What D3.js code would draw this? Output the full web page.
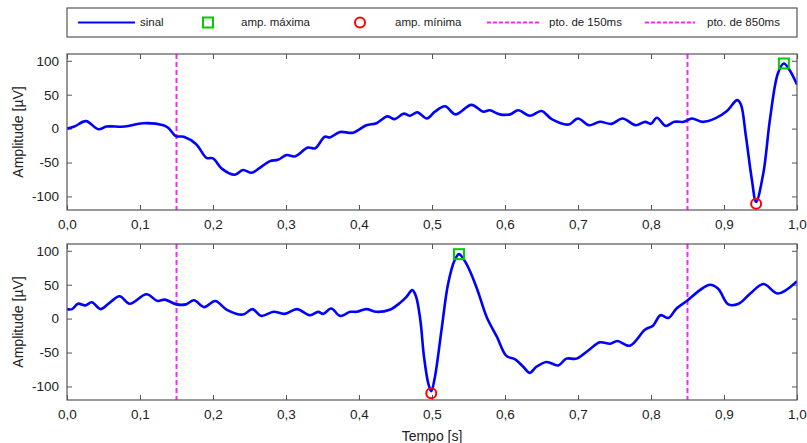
<!DOCTYPE html>
<html>
<head>
<meta charset="utf-8">
<script src="https://cdn.jsdelivr.net/npm/d3@7/dist/d3.min.js"></script>
<style>
  html, body { margin: 0; padding: 0; background: #fff; }
  svg { display: block; font-family: "Liberation Sans", Arial, sans-serif; }
</style>
</head>
<body>
<svg id="chart" width="807" height="443"></svg>
<script>
// Sample instants [s] and amplitudes [µV] of the first trace
const tempoA = [0.000, 0.010, 0.026, 0.043, 0.054, 0.079, 0.104, 0.132, 0.139, 0.149,
  0.160, 0.177, 0.191, 0.200, 0.212, 0.230, 0.241, 0.253, 0.264, 0.278,
  0.289, 0.301, 0.312, 0.330, 0.340, 0.353, 0.360, 0.374, 0.392, 0.410,
  0.424, 0.439, 0.449, 0.461, 0.470, 0.480, 0.493, 0.504, 0.518, 0.532,
  0.554, 0.570, 0.579, 0.593, 0.607, 0.618, 0.634, 0.650, 0.664, 0.687,
  0.700, 0.715, 0.730, 0.746, 0.761, 0.779, 0.792, 0.800, 0.808, 0.820,
  0.832, 0.845, 0.856, 0.871, 0.888, 0.904, 0.918, 0.923, 0.930, 0.938,
  0.944, 0.954, 0.963, 0.974, 0.982, 0.990, 1.000];
const sinalA = [0, 3, 11, -1, 3, 3, 8, 5, 1, -11,
  -12, -23, -43, -44, -59, -68, -61, -65, -58, -48,
  -46, -39, -41, -28, -29, -12, -13, -5, -6, 5,
  8, 18, 14, 22, 19, 24, 15, 25, 33, 21,
  35, 25, 27, 21, 21, 27, 19, 26, 14, 6,
  15, 5, 10, 7, 15, 5, 10, 7, 16, 4,
  10, 10, 15, 10, 15, 26, 42, 36, -11, -74,
  -108, -65, 14, 82, 96, 86, 65];

// Sample instants [s] and amplitudes [µV] of the second trace
const tempoB = [0.000, 0.007, 0.015, 0.025, 0.034, 0.046, 0.057, 0.072, 0.086, 0.109,
  0.124, 0.134, 0.150, 0.163, 0.174, 0.188, 0.203, 0.219, 0.241, 0.254,
  0.266, 0.283, 0.298, 0.315, 0.333, 0.344, 0.351, 0.362, 0.374, 0.388,
  0.397, 0.410, 0.424, 0.442, 0.456, 0.465, 0.473, 0.478, 0.484, 0.489,
  0.495, 0.499, 0.504, 0.513, 0.522, 0.531, 0.537, 0.547, 0.561, 0.575,
  0.589, 0.602, 0.614, 0.625, 0.634, 0.643, 0.657, 0.673, 0.684, 0.698,
  0.714, 0.730, 0.744, 0.754, 0.771, 0.792, 0.803, 0.813, 0.824, 0.835,
  0.849, 0.867, 0.881, 0.892, 0.906, 0.920, 0.936, 0.954, 0.974, 1.000];
const sinalB = [14, 14, 22, 19.5, 24, 14, 22, 33, 22, 36,
  26, 28, 21, 21, 27, 17, 26, 13, 6, 14,
  4, 10, 7, 14, 5, 10, 7, 15, 4, 10,
  10, 14, 10, 13, 23, 32, 42, 33, -2, -56,
  -96, -107, -86, -17, 51, 86, 95, 81, 46, 2,
  -27, -55, -60, -71, -80, -71, -64, -69, -59, -59,
  -47, -35, -37, -33, -40, -16, -10, 5, 1, 15,
  26, 42, 50, 44, 21, 22, 37, 51, 37, 55];

// Reference instants [s] marked on both traces
const marcos = [0.15, 0.85];

// Axis ticks
const xTicks = [0, 0.1, 0.2, 0.3, 0.4, 0.5, 0.6, 0.7, 0.8, 0.9, 1.0];
const yTicks = [-100, -50, 0, 50, 100];

// Legend entries
const legendLabels = ["sinal", "amp. máxima", "amp. mínima", "pto. de 150ms", "pto. de 850ms"];

const COR_SINAL = "#0000ff";
const COR_MAX = "#00cc00";
const COR_MIN = "#ff0000";
const COR_MARCO = "#ff22ff";
const COR_EIXO = "#555555";

const svg = d3.select("#chart");
const fmt = d => d3.format(".1f")(d).replace(".", ",");

const x = d3.scaleLinear().domain([0, 1]).range([67, 797]);

function painel(top, bottom, tempo, sinal, idx, comEixoX) {
  const y = d3.scaleLinear().domain([-120, 110]).range([bottom, top]);
  const g = svg.append("g");
  const clipId = "clip" + idx;
  svg.append("clipPath").attr("id", clipId)
    .append("rect").attr("x", x(0)).attr("y", top)
    .attr("width", x(1) - x(0)).attr("height", bottom - top);

  // Inward ticks on all four sides
  const tk = 5;
  const axB = d3.axisBottom(x).tickValues(xTicks).tickSize(-tk).tickFormat(fmt).tickPadding(9);
  const axT = d3.axisTop(x).tickValues(xTicks).tickSize(-tk).tickFormat("");
  const axL = d3.axisLeft(y).tickValues(yTicks).tickSize(-tk).tickFormat(d => d).tickPadding(8);
  const axR = d3.axisRight(y).tickValues(yTicks).tickSize(-tk).tickFormat("");

  const styleAxis = sel => {
    sel.select(".domain").remove();
    sel.selectAll(".tick line").attr("stroke", COR_EIXO);
    sel.selectAll("text").attr("fill", "#222").style("font-size", "13.5px")
      .style("font-family", "'Liberation Sans', Arial, sans-serif");
  };
  g.append("g").attr("transform", `translate(0,${bottom})`).call(axB).call(styleAxis);
  g.append("g").attr("transform", `translate(0,${top})`).call(axT).call(styleAxis);
  g.append("g").attr("transform", `translate(${x(0)},0)`).call(axL).call(styleAxis);
  g.append("g").attr("transform", `translate(${x(1)},0)`).call(axR).call(styleAxis);

  // Reference instants
  g.selectAll(".marco").data(marcos).join("line")
    .attr("x1", d => x(d)).attr("x2", d => x(d))
    .attr("y1", top).attr("y2", bottom)
    .attr("stroke", COR_MARCO).attr("stroke-width", 2)
    .attr("stroke-dasharray", "5,3");

  // Signal
  const pts = tempo.map((t, i) => [t, sinal[i]]);
  const linha = d3.line().x(d => x(d[0])).y(d => y(d[1])).curve(d3.curveCatmullRom.alpha(0.5));
  g.append("path").datum(pts)
    .attr("clip-path", `url(#${clipId})`)
    .attr("d", linha).attr("fill", "none")
    .attr("stroke", COR_SINAL).attr("stroke-width", 2.6)
    .attr("stroke-linejoin", "round");

  // Maximum and minimum amplitude
  const iMax = d3.maxIndex(sinal);
  const iMin = d3.minIndex(sinal);
  g.append("rect")
    .attr("x", x(tempo[iMax]) - 5).attr("y", y(sinal[iMax]) - 5)
    .attr("width", 10).attr("height", 10)
    .attr("fill", "none").attr("stroke", COR_MAX).attr("stroke-width", 2);
  g.append("circle")
    .attr("cx", x(tempo[iMin])).attr("cy", y(sinal[iMin]) + 2).attr("r", 5)
    .attr("fill", "none").attr("stroke", COR_MIN).attr("stroke-width", 2);

  // Frame
  g.append("rect").attr("x", x(0)).attr("y", top)
    .attr("width", x(1) - x(0)).attr("height", bottom - top)
    .attr("fill", "none").attr("stroke", COR_EIXO).attr("stroke-width", 1.2);

  // Y label
  g.append("text")
    .attr("transform", `translate(19,${(top + bottom) / 2}) rotate(-90)`)
    .attr("text-anchor", "middle").attr("dominant-baseline", "middle")
    .style("font-size", "14px").attr("fill", "#222")
    .text("Amplitude [µV]");

  if (comEixoX) {
    g.append("text")
      .attr("x", x(0.5)).attr("y", 441)
      .attr("text-anchor", "middle")
      .style("font-size", "14px").attr("fill", "#222")
      .text("Tempo [s]");
  }
}

painel(54, 210, tempoA, sinalA, 0, false);
painel(244, 400, tempoB, sinalB, 1, true);

// Legend
const lg = svg.append("g");
lg.append("rect").attr("x", 67).attr("y", 8).attr("width", 730).attr("height", 29)
  .attr("fill", "#fff").attr("stroke", COR_EIXO).attr("stroke-width", 1.2);
const ly = 22.5;
const textX = [140, 241, 395, 549, 707];
lg.selectAll("text").data(legendLabels).join("text")
  .attr("x", (d, i) => textX[i]).attr("y", ly)
  .attr("dominant-baseline", "middle")
  .style("font-size", "11.5px").attr("fill", "#222")
  .text(d => d);
lg.append("line").attr("x1", 78).attr("x2", 135).attr("y1", ly).attr("y2", ly)
  .attr("stroke", COR_SINAL).attr("stroke-width", 2.2);
lg.append("rect").attr("x", 203).attr("y", ly - 5).attr("width", 10).attr("height", 10)
  .attr("fill", "none").attr("stroke", COR_MAX).attr("stroke-width", 2);
lg.append("circle").attr("cx", 360).attr("cy", ly).attr("r", 5)
  .attr("fill", "none").attr("stroke", COR_MIN).attr("stroke-width", 2);
[[487, 541], [645, 695]].forEach(([a, b]) => {
  lg.append("line").attr("x1", a).attr("x2", b).attr("y1", ly).attr("y2", ly)
    .attr("stroke", COR_MARCO).attr("stroke-width", 2).attr("stroke-dasharray", "4,2");
});
</script>
</body>
</html>
